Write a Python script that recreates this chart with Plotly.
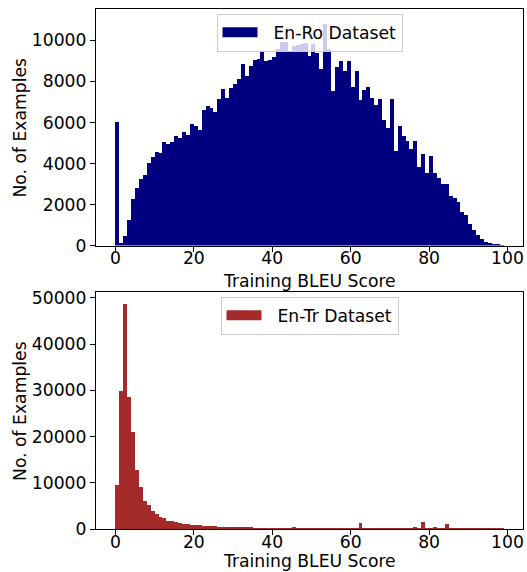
import plotly.graph_objects as go

# Bin left edges (BLEU score, bins of width 1)
bin_starts = list(range(99))

en_ro_counts = [
    6025, 150, 490, 1270, 2290, 2810, 3260, 3460, 4040, 4300,
    4580, 4530, 5070, 4970, 5070, 5360, 5230, 5550, 5410, 5940,
    5850, 5650, 6630, 6820, 6710, 6530, 7150, 7650, 7210, 7700,
    7890, 8140, 8870, 8280, 8770, 9060, 9110, 9450, 9010, 9060,
    9210, 9600, 9900, 9900, 9450, 9740, 9790, 9810, 9870, 9260,
    9810, 9390, 8620, 10800, 9600, 7520, 8700, 9010, 8490, 9010,
    7750, 8530, 7110, 7560, 7750, 7190, 6870, 7130, 6140, 5710,
    7150, 4630, 5850, 5330, 5120, 4720, 5120, 3810, 4470, 3560,
    4350, 3550, 3290, 2980, 2980, 2420, 2310, 2110, 1660, 1510,
    1070, 740, 520, 340, 200, 110, 65, 35, 15,
]

en_tr_counts = [
    9350, 29840, 48600, 28540, 21000, 12580, 8920, 5900, 5180, 3740,
    3090, 2440, 2230, 1650, 1650, 1370, 1220, 1000, 930, 860,
    790, 720, 650, 575, 500, 500, 430, 360, 430, 360,
    290, 290, 290, 250, 150, 100, 100, 100, 100, 100,
    90, 90, 90, 90, 90, 300, 80, 80, 80, 80,
    80, 80, 80, 80, 80, 80, 80, 80, 80, 80,
    80, 80, 1150, 70, 70, 70, 70, 70, 70, 70,
    70, 70, 70, 70, 70, 70, 300, 70, 1370, 70,
    70, 300, 60, 60, 935, 50, 50, 50, 50, 50,
    50, 50, 50, 50, 50, 50, 50, 50, 50,
]

x_ticks = [0, 20, 40, 60, 80, 100]
x_tick_labels = ["0", "20", "40", "60", "80", "100"]
ro_y_ticks = [0, 2000, 4000, 6000, 8000, 10000]
ro_y_tick_labels = ["0", "2000", "4000", "6000", "8000", "10000"]
tr_y_ticks = [0, 10000, 20000, 30000, 40000, 50000]
tr_y_tick_labels = ["0", "10000", "20000", "30000", "40000", "50000"]

x_title = "Training BLEU Score"
y_title = "No. of Examples"
ro_label = "En-Ro Dataset"
tr_label = "En-Tr Dataset"
ro_color = "#000080"
tr_color = "#A52A2A"

centers = [b + 0.5 for b in bin_starts]
PAD = "\u00a0\u00a0"

fig = go.Figure()
fig.add_trace(go.Bar(x=centers, y=en_ro_counts, width=1, marker=dict(color=ro_color, line=dict(width=0)),
                     showlegend=False, xaxis="x", yaxis="y"))
fig.add_trace(go.Bar(x=centers, y=en_tr_counts, width=1, marker=dict(color=tr_color, line=dict(width=0)),
                     showlegend=False, xaxis="x2", yaxis="y2"))
# legend entries
fig.add_trace(go.Scatter(x=[None], y=[None], mode="lines", line=dict(color=ro_color, width=12),
                         name=PAD + ro_label, legend="legend", xaxis="x", yaxis="y"))
fig.add_trace(go.Scatter(x=[None], y=[None], mode="lines", line=dict(color=tr_color, width=12),
                         name=PAD + tr_label, legend="legend2", xaxis="x2", yaxis="y2"))

FS = 17.2
font = dict(family="DejaVu Sans", size=FS, color="black")
axis_common = dict(showline=True, mirror=True, linecolor="black", linewidth=1.1, ticks="outside",
                   ticklen=5, tickwidth=1.1, tickcolor="black", showgrid=False, zeroline=False,
                   tickfont=font, automargin=False)

xr = [-4.95, 103.95]
legend_common = dict(xanchor="center", yanchor="top", bgcolor="rgba(255,255,255,0.8)",
                     bordercolor="#cccccc", borderwidth=1, font=font, itemwidth=35)
fig.update_layout(
    width=527, height=572,
    margin=dict(l=96, r=4, t=9, b=43),
    paper_bgcolor="white", plot_bgcolor="white",
    font=font,
    bargap=0, barmode="overlay",
    xaxis=dict(domain=[0, 1], anchor="y", range=xr, tickvals=x_ticks, ticktext=x_tick_labels,
               ticklabelstandoff=-8, **axis_common),
    yaxis=dict(domain=[0.545, 1], anchor="x", range=[0, 11530], tickvals=ro_y_ticks,
               ticktext=ro_y_tick_labels, **axis_common),
    xaxis2=dict(domain=[0, 1], anchor="y2", range=xr, tickvals=x_ticks, ticktext=x_tick_labels,
                ticklabelstandoff=-8, **axis_common),
    yaxis2=dict(domain=[0, 0.455], anchor="x2", range=[0, 51210], tickvals=tr_y_ticks,
                ticktext=tr_y_tick_labels, **axis_common),
    legend=dict(x=0.5, y=0.991, **legend_common),
    legend2=dict(x=0.5, y=0.447, **legend_common),
    annotations=[
        dict(text=x_title, xref="paper", yref="paper", x=0.501, y=0.477, xanchor="center",
             yanchor="middle", showarrow=False, font=font),
        dict(text=x_title, xref="paper", yref="paper", x=0.501, y=-0.0615, xanchor="center",
             yanchor="middle", showarrow=False, font=font),
        dict(text=y_title, xref="paper", yref="paper", x=-0.178, y=0.772, xanchor="center",
             yanchor="middle", showarrow=False, font=font, textangle=-90),
        dict(text=y_title, xref="paper", yref="paper", x=-0.178, y=0.227, xanchor="center",
             yanchor="middle", showarrow=False, font=font, textangle=-90),
    ],
)

fig.write_html("out.html", config={"displayModeBar": False},
               post_script="document.body.style.margin='0';document.body.style.overflow='hidden';")
